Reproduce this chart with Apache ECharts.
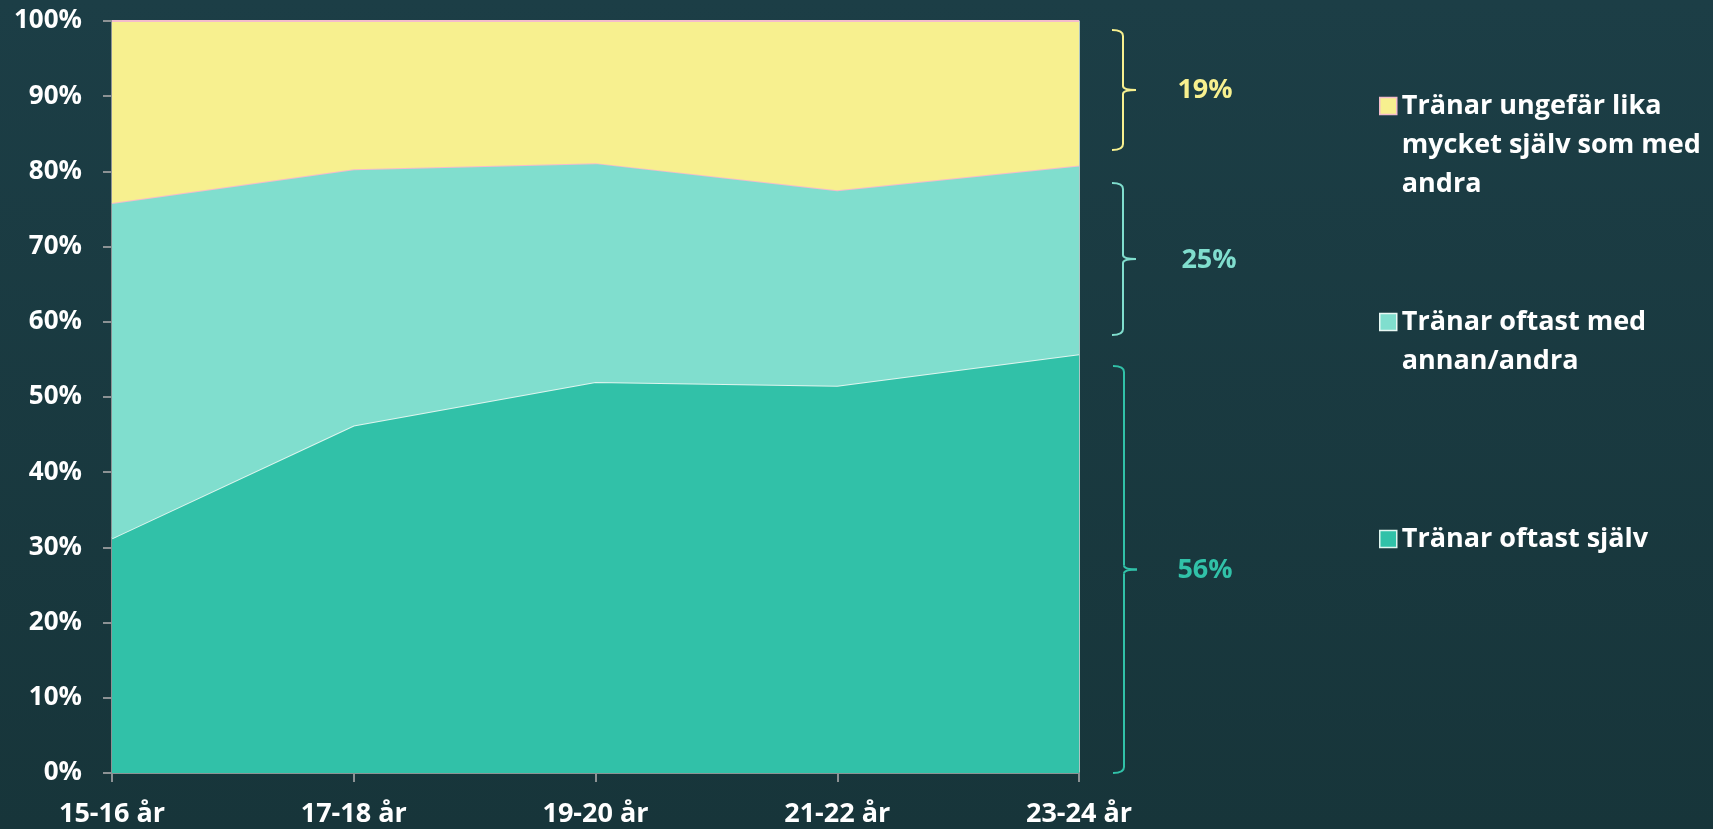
<!DOCTYPE html>
<html>
<head>
<meta charset="utf-8">
<script src="https://cdn.jsdelivr.net/npm/echarts@6/dist/echarts.min.js"></script>
<style>
    html, body { margin: 0; padding: 0; background: #1b3d44; }
    #main { width: 1713px; height: 829px; }
</style>
</head>
<body>
<div id="main"></div>
<script>
// data
var ageGroups = ['15-16 år', '17-18 år', '19-20 år', '21-22 år', '23-24 år'];
var seriesNames = ['Tränar oftast själv', 'Tränar oftast med annan/andra', 'Tränar ungefär lika mycket själv som med andra'];
var legendLines = ['Tränar oftast själv', 'Tränar oftast med\nannan/andra', 'Tränar ungefär lika\nmycket själv som med\nandra'];
var aloneVals = [31.2, 46.2, 52.0, 51.5, 55.7];
var withOthersVals = [44.6, 34.1, 29.1, 26.0, 25.1];
var equalVals = [24.2, 19.7, 18.9, 22.5, 19.2];
var lastLabels = ['56%', '25%', '19%'];

var colors = ['#31c1a8', '#80dece', '#f7f08f'];
var lineColors = ['#dff5ef', '#f4bccb', '#f4bccb'];
var iconBorders = ['#dff5ef', '#e8f8f4', '#f4bccb'];
var fontFam = '"Open Sans", sans-serif';

var myChart = echarts.init(document.getElementById('main'));

// legend: one per item so each sits at its own height, icon level with first text line
var LH = 39;
function makeLegend(i, iconCenterY) {
    var n = legendLines[i].split('\n').length;
    // blank lines in front push the real text down so its first line sits by the icon
    var pad = '';
    for (var k = 1; k < n; k++) pad += ' \n';
    return {
        data: [{
            name: seriesNames[i],
            itemStyle: { color: colors[i], borderColor: iconBorders[i], borderWidth: 1.5 }
        }],
        orient: 'vertical',
        left: 1379,
        top: iconCenterY - (2 * n - 1) * LH / 2,
        padding: 0,
        icon: 'rect',
        itemWidth: 17,
        itemHeight: 17,
        selectedMode: false,
        formatter: function () { return pad + legendLines[i]; },
        textStyle: {
            color: '#ffffff',
            fontFamily: fontFam,
            fontWeight: 'bold',
            fontSize: 27,
            lineHeight: LH
        }
    };
}

// curly bracket next to the last age group
function bracket(x, top, bottom, color) {
    var mid = (top + bottom) / 2;
    var st = { stroke: color, lineWidth: 2, fill: null };
    function curve(x1, y1, x2, y2, cx, cy) {
        return { type: 'bezierCurve', shape: { x1: x1, y1: y1, x2: x2, y2: y2, cpx1: cx, cpy1: cy }, style: st };
    }
    function seg(x1, y1, x2, y2) {
        return { type: 'line', shape: { x1: x1, y1: y1, x2: x2, y2: y2 }, style: st };
    }
    return {
        type: 'group',
        children: [
            curve(x - 11, top, x, top + 6, x, top),
            seg(x, top + 6, x, mid - 4),
            curve(x, mid - 4, x + 13, mid, x, mid),
            curve(x + 13, mid, x, mid + 4, x, mid),
            seg(x, mid + 4, x, bottom - 6),
            curve(x, bottom - 6, x - 11, bottom, x, bottom)
        ]
    };
}
function bracketLabel(x, y, text, color) {
    return {
        type: 'text',
        x: x, y: y,
        style: {
            text: text, fill: color, fontFamily: fontFam, fontWeight: 'bold',
            fontSize: 27, align: 'center', verticalAlign: 'middle'
        }
    };
}

var valueLists = [aloneVals, withOthersVals, equalVals];

var option = {
    backgroundColor: {
        type: 'linear', x: 0, y: 0, x2: 0, y2: 1,
        colorStops: [{ offset: 0, color: '#1c3e46' }, { offset: 1, color: '#17353a' }]
    },
    animation: false,
    grid: { left: 112, right: 634, top: 21, bottom: 56 },
    legend: [makeLegend(2, 106), makeLegend(1, 322), makeLegend(0, 539)],
    xAxis: {
        type: 'category',
        boundaryGap: false,
        data: ageGroups,
        axisLine: { lineStyle: { color: '#8c9294', width: 2 } },
        axisTick: { length: 9, lineStyle: { color: '#8c9294', width: 2 } },
        axisLabel: {
            color: '#ffffff', fontFamily: fontFam, fontWeight: 'bold', fontSize: 27,
            margin: 28, interval: 0
        }
    },
    yAxis: [{
        type: 'value',
        min: 0,
        max: 100,
        interval: 10,
        axisLine: { show: true, lineStyle: { color: '#8c9294', width: 2 } },
        axisTick: { show: true, length: 9, lineStyle: { color: '#8c9294', width: 2 } },
        splitLine: { show: false },
        axisLabel: {
            formatter: '{value}%',
            color: '#ffffff', fontFamily: fontFam, fontWeight: 'bold', fontSize: 26,
            margin: 30
        }
    }, {
        type: 'value',
        position: 'right',
        min: 0,
        max: 100,
        axisLine: { show: true, lineStyle: { color: '#dff5ef', width: 1.5 } },
        axisTick: { show: false },
        axisLabel: { show: false },
        splitLine: { show: false }
    }],
    series: seriesNames.map(function (name, i) {
        return {
            name: name,
            type: 'line',
            stack: 'total',
            data: valueLists[i],
            symbol: 'none',
            z: 2 + i,
            itemStyle: { color: colors[i] },
            lineStyle: { color: lineColors[i], width: 2 },
            areaStyle: { color: colors[i], opacity: 1 }
        };
    }),
    graphic: [
        bracket(1123, 30, 150, colors[2]),
        bracket(1123, 183, 335, colors[1]),
        bracket(1124, 366, 773, colors[0]),
        bracketLabel(1205, 90, lastLabels[2], colors[2]),
        bracketLabel(1209, 260, lastLabels[1], colors[1]),
        bracketLabel(1205, 570, lastLabels[0], colors[0])
    ]
};
myChart.setOption(option);
</script>
</body>
</html>
